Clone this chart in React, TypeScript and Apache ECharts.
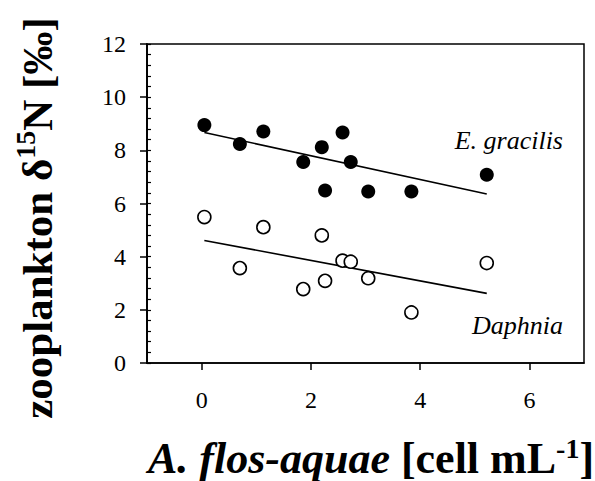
import React, { useEffect, useRef } from "react";
import * as echarts from "echarts";

const xValues = [0.05, 0.70, 1.13, 1.86, 2.20, 2.26, 2.58, 2.73, 3.05, 3.84, 5.22];
const gracilisValues = [8.95, 8.24, 8.71, 7.56, 8.12, 6.49, 8.67, 7.56, 6.45, 6.45, 7.08];
const daphniaValues = [5.49, 3.57, 5.11, 2.78, 4.80, 3.09, 3.85, 3.81, 3.19, 1.90, 3.76];
const fitX = [0.05, 5.22];
const gracilisFit = [8.67, 6.36];
const daphniaFit = [4.61, 2.62];
const xTicks = [0, 2, 4, 6];

const SERIF = "Liberation Serif";

export default function App() {
  const ref = useRef<HTMLDivElement>(null);
  useEffect(() => {
    const chart = echarts.init(ref.current!, null, { renderer: "svg" });
    const pairs = (xs: number[], ys: number[]) => xs.map((x, i) => [x, ys[i]]);
    chart.setOption({
      animation: false,
      backgroundColor: "#ffffff",
      textStyle: { fontFamily: SERIF },
      grid: {
        left: 147, right: 11, top: 44, bottom: 118,
        show: true, borderColor: "#000", borderWidth: 1.5,
      },
      xAxis: {
        type: "value", min: -1, max: 7,
        axisLine: { show: true, onZero: false, lineStyle: { color: "#000", width: 1.5 } },
        axisTick: { show: true, length: 7, customValues: xTicks, lineStyle: { color: "#000", width: 1.5 } },
        axisLabel: { customValues: xTicks, fontSize: 24, fontFamily: SERIF, color: "#000", margin: 25 },
        splitLine: { show: false },
      },
      yAxis: [
        {
          type: "value", min: 0, max: 12, interval: 2,
          axisLine: { show: true, onZero: false, lineStyle: { color: "#000", width: 1.5 } },
          axisTick: { show: true, length: 7, lineStyle: { color: "#000", width: 1.5 } },
          axisLabel: { fontSize: 24, fontFamily: SERIF, color: "#000", margin: 21 },
          splitLine: { show: false },
        },
        {
          type: "value", min: 0, max: 12, interval: 2, position: "left",
          axisLine: { show: true, onZero: false, lineStyle: { color: "#000", width: 1.5 } },
          axisTick: { show: true, inside: true, length: 4, lineStyle: { color: "#000", width: 1.2 } },
          minorTick: { show: true, splitNumber: 5, length: 4, lineStyle: { color: "#000", width: 1.2 } },
          axisLabel: { show: false },
          splitLine: { show: false },
        },
      ],
      series: [
        {
          type: "line", data: pairs(fitX, gracilisFit), showSymbol: false, symbol: "none",
          lineStyle: { color: "#000", width: 1.6 }, z: 2,
        },
        {
          type: "line", data: pairs(fitX, daphniaFit), showSymbol: false, symbol: "none",
          lineStyle: { color: "#000", width: 1.6 }, z: 2,
        },
        {
          type: "scatter", data: pairs(xValues, gracilisValues), symbol: "circle", symbolSize: 14,
          itemStyle: { color: "#000", opacity: 1 }, z: 3,
        },
        {
          type: "scatter", data: pairs(xValues, daphniaValues), symbol: "circle", symbolSize: 13,
          itemStyle: { color: "#fff", borderColor: "#000", borderWidth: 1.6, opacity: 1 }, z: 3,
        },
      ],
      graphic: [
        {
          type: "text", x: 563, y: 140, z: 10,
          style: { text: "E. gracilis", font: `italic 26px ${SERIF}`, fill: "#000", align: "right", verticalAlign: "middle" },
        },
        {
          type: "text", x: 563, y: 325, z: 10,
          style: { text: "Daphnia", font: `italic 26px ${SERIF}`, fill: "#000", align: "right", verticalAlign: "middle" },
        },
        {
          type: "text", x: 35, y: 218, rotation: Math.PI / 2, z: 10,
          style: {
            text: "{a|zooplankton δ}{s|15}{a|N [‰]}",
            align: "center", verticalAlign: "middle", fill: "#000",
            rich: {
              a: { fontFamily: SERIF, fontWeight: "bold", fontSize: 43, lineHeight: 47, verticalAlign: "bottom" },
              s: { fontFamily: SERIF, fontWeight: "bold", fontSize: 28, lineHeight: 47, verticalAlign: "top" },
            },
          },
        },
        {
          type: "text", x: 371, y: 457, z: 10,
          style: {
            text: "{i|A. flos-aquae}{a| [cell mL}{s|-1}{a|]}",
            align: "center", verticalAlign: "middle", fill: "#000",
            rich: {
              i: { fontFamily: SERIF, fontWeight: "bold", fontStyle: "italic", fontSize: 44, lineHeight: 46, verticalAlign: "bottom" },
              a: { fontFamily: SERIF, fontWeight: "bold", fontSize: 44, lineHeight: 46, verticalAlign: "bottom" },
              s: { fontFamily: SERIF, fontWeight: "bold", fontSize: 28, lineHeight: 46, verticalAlign: "top" },
            },
          },
        },
      ],
    });
    return () => chart.dispose();
  }, []);
  return <div ref={ref} style={{ position: "fixed", left: 0, top: 0, width: 595, height: 481 }} />;
}
